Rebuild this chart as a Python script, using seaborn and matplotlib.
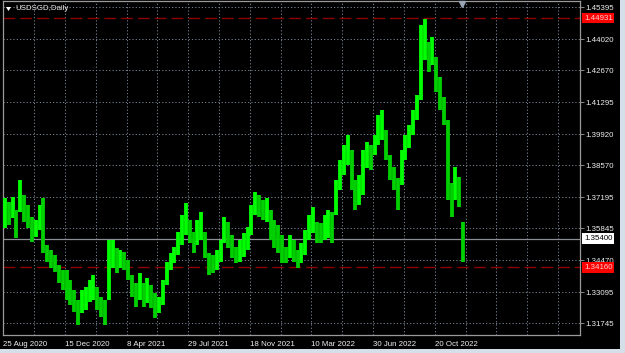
import numpy as np
import pandas as pd
import matplotlib
matplotlib.use("Agg")
import matplotlib.pyplot as plt
import matplotlib.transforms as mtransforms
from matplotlib.patches import Rectangle, Polygon
import seaborn as sns

# ---------------- data ----------------
symbol = "USDSGD,Daily"
date_labels = ["25 Aug 2020", "15 Dec 2020", "8 Apr 2021", "29 Jul 2021",
               "18 Nov 2021", "10 Mar 2022", "30 Jun 2022", "20 Oct 2022"]
bars_per_label = 80          # daily bars between date labels
bars_per_sample = 5          # one sample = one trading week
total_bars_visible = 748

price_ticks = [1.45395, 1.44020, 1.42670, 1.41295, 1.39920, 1.38570,
               1.37195, 1.35845, 1.34470, 1.33095, 1.31745]
price_tick_labels = ["1.45395", "1.44020", "1.42670", "1.41295", "1.39920",
                     "1.38570", "1.37195", "1.35845", "1.34470", "1.33095",
                     "1.31745"]

weekly_high = [
    1.3716, 1.3698, 1.3720, 1.3664, 1.3793, 1.3729, 1.3685, 1.3634, 1.3621, 1.3685,
    1.3716, 1.3513, 1.3491, 1.3469, 1.3426, 1.3405, 1.3405, 1.3361, 1.3318, 1.3275,
    1.3318, 1.3331, 1.3361, 1.3383, 1.3331, 1.3288, 1.3275, 1.3534, 1.3534, 1.3500,
    1.3491, 1.3482, 1.3448, 1.3383, 1.3348, 1.3392, 1.3348, 1.3370, 1.3340, 1.3305,
    1.3288, 1.3361, 1.3439, 1.3478, 1.3504, 1.3569, 1.3642, 1.3694, 1.3621, 1.3569,
    1.3621, 1.3655, 1.3569, 1.3478, 1.3469, 1.3491, 1.3534, 1.3634, 1.3612, 1.3556,
    1.3504, 1.3534, 1.3565, 1.3590, 1.3685, 1.3742, 1.3729, 1.3707, 1.3716, 1.3664,
    1.3621, 1.3599, 1.3556, 1.3504, 1.3556, 1.3534, 1.3491, 1.3521, 1.3577, 1.3642,
    1.3677, 1.3612, 1.3608, 1.3642, 1.3664, 1.3655, 1.3793, 1.3880, 1.3945, 1.3988,
    1.3923, 1.3793, 1.3815, 1.3923, 1.3958, 1.3945, 1.3988, 1.4074, 1.4096, 1.4009,
    1.3901, 1.3850, 1.3802, 1.3923, 1.3988, 1.4031, 1.4096, 1.4161, 1.4463, 1.4489,
    1.4390, 1.4411, 1.4325, 1.4238, 1.4152, 1.4053, 1.3780, 1.3850, 1.3806, 1.3612,
]
weekly_low = [
    1.3586, 1.3599, 1.3629, 1.3543, 1.3655, 1.3612, 1.3586, 1.3526, 1.3547, 1.3577,
    1.3478, 1.3439, 1.3413, 1.3396, 1.3348, 1.3318, 1.3275, 1.3253, 1.3223, 1.3167,
    1.3219, 1.3232, 1.3266, 1.3275, 1.3232, 1.3202, 1.3167, 1.3275, 1.3413, 1.3392,
    1.3413, 1.3405, 1.3361, 1.3288, 1.3245, 1.3275, 1.3245, 1.3262, 1.3240, 1.3197,
    1.3219, 1.3253, 1.3340, 1.3405, 1.3435, 1.3469, 1.3513, 1.3556, 1.3521, 1.3478,
    1.3513, 1.3534, 1.3456, 1.3383, 1.3392, 1.3405, 1.3439, 1.3521, 1.3500, 1.3456,
    1.3435, 1.3439, 1.3461, 1.3491, 1.3556, 1.3642, 1.3634, 1.3621, 1.3612, 1.3534,
    1.3500, 1.3478, 1.3435, 1.3435, 1.3456, 1.3439, 1.3413, 1.3435, 1.3469, 1.3534,
    1.3565, 1.3521, 1.3521, 1.3534, 1.3543, 1.3521, 1.3642, 1.3750, 1.3815, 1.3858,
    1.3750, 1.3664, 1.3685, 1.3729, 1.3845, 1.3837, 1.3901, 1.3945, 1.3966, 1.3880,
    1.3793, 1.3750, 1.3664, 1.3772, 1.3880, 1.3932, 1.3988, 1.4053, 1.4139, 1.4312,
    1.4260, 1.4290, 1.4174, 1.4096, 1.4031, 1.3707, 1.3634, 1.3707, 1.3677, 1.3439,
]

level_high = 1.44931
level_low = 1.34160
bid_price = 1.35400

# ---------------- build long table ----------------
mids = [(h + l) / 2 for h, l in zip(weekly_high, weekly_low)]
rows = []
for i, (h, l) in enumerate(zip(weekly_high, weekly_low)):
    d = "up" if i == 0 or mids[i] >= mids[i - 1] else "down"
    xb = i * bars_per_sample + (bars_per_sample - 1) / 2
    rows.append({"bar": xb, "price": l, "sample": i, "dir": d})
    rows.append({"bar": xb, "price": h, "sample": i, "dir": d})
df = pd.DataFrame(rows)

# ---------------- style ----------------
sns.set_style("dark", {"axes.facecolor": "black", "figure.facecolor": "black"})
plt.rcParams["font.family"] = ["Liberation Sans", "DejaVu Sans"]
FS = 5.7
TXT = "#eeeeee"
GRID = "#7a8796"
FRAME = "#9a9a9a"

W, H = 625, 353
fig = plt.figure(figsize=(W / 100, H / 100), dpi=100, facecolor="black")
ax = fig.add_axes([3 / W, 1 - 335 / H, (579.5 - 3) / W, (335 - 1) / H])
ax.set_facecolor("black")

# window borders (light strips)
fig.patches.append(Rectangle((0, 0), 1, 4 / H, transform=fig.transFigure,
                             facecolor="#d5dfea", edgecolor="none", zorder=0))
fig.patches.append(Rectangle((620 / W, 0), 5 / W, 1, transform=fig.transFigure,
                             facecolor="#d5dfea", edgecolor="none", zorder=0))

# bars
sns.lineplot(data=df, x="bar", y="price", units="sample", estimator=None,
             hue="dir", palette={"up": "#00ff00", "down": "#00d000"},
             linewidth=2.75, legend=False, sort=False, ax=ax,
             solid_capstyle="butt", zorder=3)

# levels
ax.axhline(level_high, color="#8e0000", lw=1.0, linestyle=(0, (8.5, 3.6)), zorder=2)
ax.axhline(level_low, color="#8e0000", lw=1.0, linestyle=(0, (8.5, 3.6)), zorder=2)
ax.axhline(bid_price, color="#8a8f96", lw=0.9, zorder=2)

# axes limits
ax.set_xlim(-0.5, total_bars_visible)
ax.set_ylim(1.31238, 1.45667)

# x ticks
major = [i * bars_per_label for i in range(len(date_labels))]
minor = [b for b in range(bars_per_label // 2, total_bars_visible, bars_per_label // 2)
         if b not in major]
ax.set_xticks(major)
ax.set_xticklabels(date_labels, ha="left")
ax.set_xticks(minor, minor=True)
ax.tick_params(axis="x", which="major", direction="out", length=3, width=0.8,
               color=FRAME, labelcolor=TXT, labelsize=FS, pad=1.5)
ax.tick_params(axis="x", which="minor", length=0)
for lbl in ax.get_xticklabels():
    lbl.set_horizontalalignment("left")

# y ticks on right
ax.yaxis.tick_right()
ax.set_yticks(price_ticks)
ax.set_yticklabels(price_tick_labels)
ax.tick_params(axis="y", direction="out", length=3, width=0.6, color=FRAME,
               labelcolor=TXT, labelsize=FS, pad=1.5, left=False)

ax.set_xlabel("")
ax.set_ylabel("")

# grid
ax.grid(True, which="both", axis="x", color=GRID, lw=0.7, linestyle=(0, (1.2, 2.2)))
ax.grid(True, which="major", axis="y", color=GRID, lw=0.7, linestyle=(0, (1.2, 2.2)))
ax.set_axisbelow(True)

for s in ax.spines.values():
    s.set_visible(True)
    s.set_color(FRAME)
    s.set_linewidth(0.9)

# price labels on the scale
trans = mtransforms.blended_transform_factory(ax.transAxes, ax.transData)
def price_box(val, fc, tc):
    ax.text(1.0 + 4.5 / 576.5, val, f"{val:.5f}", transform=trans, ha="left",
            va="center", fontsize=FS, color=tc, zorder=6, clip_on=False,
            bbox=dict(boxstyle="square,pad=0.22", fc=fc, ec="none"))
price_box(level_high, "#ff0000", "#ffd0d0")
price_box(bid_price, "#ffffff", "#000000")
price_box(level_low, "#ff0000", "#ffd0d0")

# title with menu triangle
fig.text(15 / W, 1 - 9 / H, symbol, color="#e6e6e6", fontsize=FS,
         ha="left", va="center")
fig.patches.append(Polygon([(6 / W, 1 - 7 / H), (11 / W, 1 - 7 / H), (8.5 / W, 1 - 11 / H)],
                           closed=True, transform=fig.transFigure,
                           facecolor="#ffffff", edgecolor="none", zorder=5))

# chart-shift marker at the top above the last bar
last_bar = len(weekly_high) * bars_per_sample - 4
ax.plot([last_bar], [0.99], marker="v", markersize=4, color="#9aa6b4",
        transform=mtransforms.blended_transform_factory(ax.transData, ax.transAxes),
        clip_on=False, zorder=6)

fig.savefig("out.png", dpi=100, facecolor="black")
